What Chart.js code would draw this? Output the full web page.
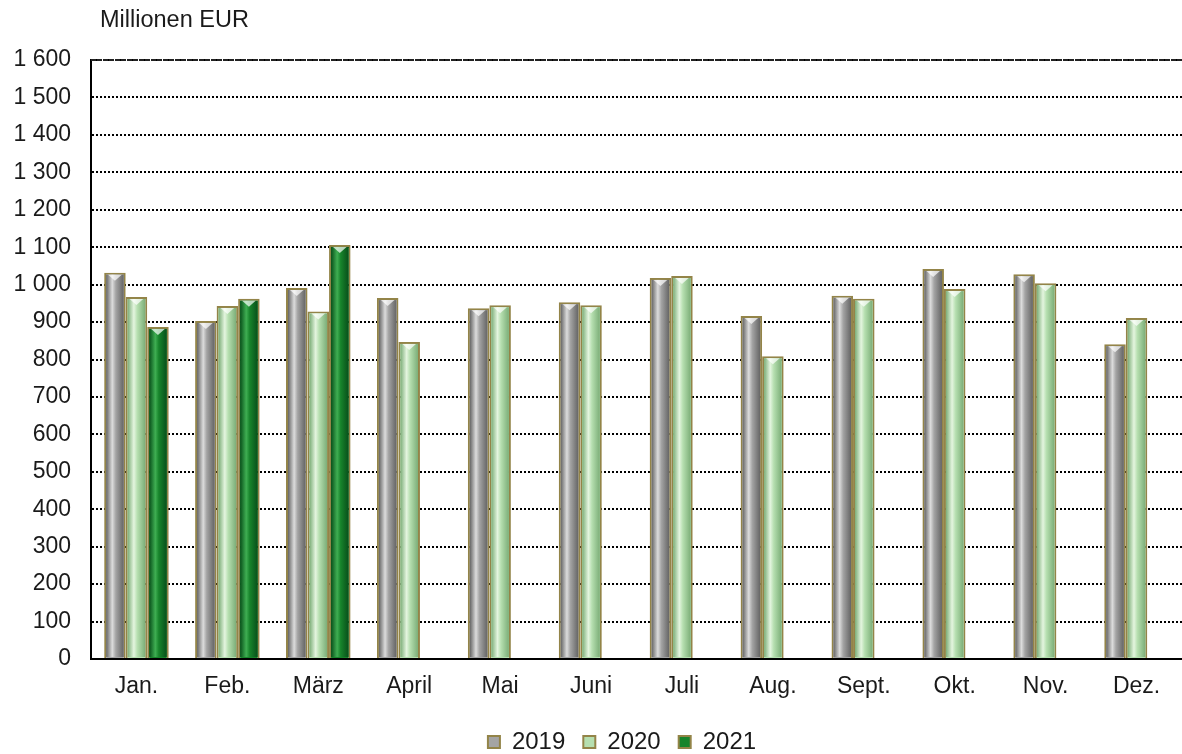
<!DOCTYPE html>
<html>
<head>
<meta charset="utf-8">
<script src="https://cdn.jsdelivr.net/npm/chart.js@4.4.1/dist/chart.umd.min.js"></script>
<style>
  html, body { margin: 0; padding: 0; background: #fff; }
  #wrap { width: 1182px; height: 754px; }
</style>
</head>
<body>
<div id="wrap"><canvas id="chart" width="1182" height="754"></canvas></div>
<script>
// Données
const months = ["Jan.", "Feb.", "März", "April", "Mai", "Juni", "Juli", "Aug.", "Sept.", "Okt.", "Nov.", "Dez."];
const values2019 = [1032, 903, 991, 964, 937, 953, 1018, 916, 970, 1042, 1028, 841];
const values2020 = [967, 943, 928, 847, 945, 945, 1023, 809, 962, 988, 1004, 911];
const values2021 = [887, 962, 1106, null, null, null, null, null, null, null, null, null];
const yTicks = [0, 100, 200, 300, 400, 500, 600, 700, 800, 900, 1000, 1100, 1200, 1300, 1400, 1500, 1600];

// Couleurs des cylindres : bord, centre, reflet
const shades = [
  { edge: "#656565", mid: "#a4a4a4", light: "#dcdcdc" },
  { edge: "#7cae78", mid: "#b6dfb0", light: "#e4f5df" },
  { edge: "#08501a", mid: "#17842b", light: "#3fae52" }
];

const fontFamily = "'Liberation Sans', Arial, sans-serif";

function fmt(v) {
  return v >= 1000 ? Math.floor(v / 1000) + " " + String(v % 1000).padStart(3, "0") : String(v);
}

// Plugin : dégradé cylindrique sur chaque barre
const cylinderPlugin = {
  id: "cylinder",
  afterDatasetsDraw(chart) {
    const ctx = chart.ctx;
    chart.data.datasets.forEach((ds, di) => {
      const meta = chart.getDatasetMeta(di);
      const s = shades[di];
      meta.data.forEach((bar, i) => {
        if (ds.data[i] == null) return;
        const left = bar.x - bar.width / 2 + 2;
        const right = bar.x + bar.width / 2 - 2;
        const top = bar.y + 2;
        const bottom = bar.base - 1;
        const g = ctx.createLinearGradient(left, 0, right, 0);
        g.addColorStop(0, s.edge);
        g.addColorStop(0.35, s.light);
        g.addColorStop(0.55, s.mid);
        g.addColorStop(1, s.edge);
        ctx.save();
        ctx.fillStyle = g;
        ctx.fillRect(left, top, right - left, bottom - top);
        // petit reflet en haut
        ctx.fillStyle = "rgba(255,255,255,0.7)";
        ctx.beginPath();
        ctx.moveTo(left + 2, top);
        ctx.lineTo(right - 2, top);
        ctx.lineTo(bar.x, top + 6);
        ctx.closePath();
        ctx.fill();
        ctx.restore();
      });
    });
  }
};

// Unité de l'axe + ligne du haut pleine + décalage de la légende
const unitPlugin = {
  id: "unit",
  afterLayout(chart) {
    if (chart.legend) {
      chart.legend.left += 31;
      chart.legend.right += 31;
    }
  },
  beforeDatasetsDraw(chart) {
    const ctx = chart.ctx;
    const y = chart.scales.y.getPixelForValue(yTicks[yTicks.length - 1]);
    ctx.save();
    ctx.strokeStyle = "#222";
    ctx.lineWidth = 2;
    ctx.setLineDash([5, 1]);
    ctx.beginPath();
    ctx.moveTo(chart.chartArea.left, y);
    ctx.lineTo(chart.chartArea.right, y);
    ctx.stroke();
    ctx.restore();
  },
  afterDraw(chart) {
    const ctx = chart.ctx;
    ctx.save();
    ctx.fillStyle = "#1a1a1a";
    ctx.font = "23.5px " + fontFamily;
    ctx.textBaseline = "middle";
    ctx.fillText("Millionen EUR", 100, 21);
    ctx.restore();
  }
};

const borderCol = "#938448";

new Chart(document.getElementById("chart"), {
  type: "bar",
  data: {
    labels: months,
    datasets: [
      { label: "2019", data: values2019, backgroundColor: shades[0].mid, borderColor: borderCol, borderWidth: 2 },
      { label: "2020", data: values2020, backgroundColor: shades[1].mid, borderColor: borderCol, borderWidth: 2 },
      { label: "2021", data: values2021, backgroundColor: shades[2].mid, borderColor: borderCol, borderWidth: 2 }
    ]
  },
  options: {
    responsive: false,
    animation: false,
    categoryPercentage: 0.71,
    barPercentage: 1,
    layout: { padding: { top: 60, right: 0, left: 0, bottom: -10 } },
    plugins: {
      legend: {
        position: "bottom",
        labels: {
          color: "#1a1a1a",
          font: { family: fontFamily, size: 24 },
          boxWidth: 12,
          boxHeight: 12,
          padding: 18
        }
      },
      tooltip: { enabled: false },
      title: { display: false }
    },
    scales: {
      x: {
        grid: { display: false },
        border: { color: "#000", width: 2 },
        afterFit: (scale) => { scale.height = 53; },
        ticks: {
          color: "#1a1a1a",
          font: { family: fontFamily, size: 23 },
          padding: 6,
          maxRotation: 0
        }
      },
      y: {
        min: 0,
        max: 1600,
        afterBuildTicks: (scale) => { scale.ticks = yTicks.map(v => ({ value: v })); },
        afterFit: (scale) => { scale.width = 91; },
        grid: {
          color: "#000",
          lineWidth: 2,
          drawTicks: false
        },
        border: { color: "#000", width: 2, dash: [2, 2] },
        ticks: {
          color: "#1a1a1a",
          font: { family: fontFamily, size: 23 },
          padding: 20,
          callback: (v) => fmt(v)
        }
      }
    }
  },
  plugins: [cylinderPlugin, unitPlugin]
});
</script>
</body>
</html>
